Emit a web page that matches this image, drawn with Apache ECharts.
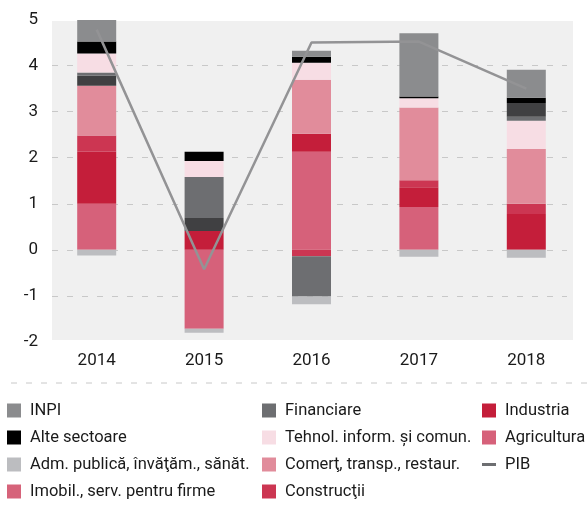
<!DOCTYPE html>
<html>
<head>
<meta charset="utf-8">
<script src="https://cdn.jsdelivr.net/npm/echarts@6/dist/echarts.min.js"></script>
<style>
  html, body { margin: 0; padding: 0; background: #fff; }
  #main { width: 588px; height: 511px; }
</style>
</head>
<body>
<div id="main"></div>
<script>
// ani si serii (contributii la PIB, p.p.)
var years = ['2014', '2015', '2016', '2017', '2018'];
var agricultura = [1.0, -1.71, 2.13, 0.93, 0];
var industria = [1.13, 0.41, 0.39, 0.43, 0.78];
var constructii = [0.35, 0, -0.14, 0.15, 0.22];
var comert = [1.08, 0, 1.17, 1.58, 1.19];
var imobil = [0.22, 0.28, 0, 0, 0.30];
var financiare = [0.07, 0.89, -0.87, 0, 0.09];
var tehnol = [0.41, 0.35, 0.37, 0.20, 0.61];
var alte = [0.26, 0.20, 0.13, 0.04, 0.11];
var inpi = [0.47, 0, 0.13, 1.37, 0.61];
var adm = [-0.12, -0.09, -0.17, -0.15, -0.17];
var pib = [4.78, -0.42, 4.5, 4.52, 3.5];
var yTicks = [-2, -1, 0, 1, 2, 3, 4, 5];

// in 2018 Tehnol. si Financiare stau sub Imobil.
var lowYears = ['2018'];
function onlyLow(arr, low) {
    return arr.map(function (v, i) {
        return (lowYears.indexOf(years[i]) >= 0) === low ? v : 0;
    });
}

var FONT = "Roboto, 'Liberation Sans', sans-serif";

var N_INPI = 'INPI';
var N_ALTE = 'Alte sectoare';
var N_ADM = 'Adm. publică, învăţăm., sănăt.';
var N_IMOB = 'Imobil., serv. pentru firme';
var N_FIN = 'Financiare';
var N_TEH = 'Tehnol. inform. și comun.';
var N_COM = 'Comerţ, transp., restaur.';
var N_CON = 'Construcţii';
var N_IND = 'Industria';
var N_AGR = 'Agricultura';
var N_PIB = 'PIB';

function bar(name, data, color) {
    return {
        name: name,
        type: 'bar',
        stack: 'total',
        barWidth: 39,
        data: data,
        itemStyle: { color: color }
    };
}

function sq(name, color) {
    var it = { name: name, icon: 'rect' };
    if (color) it.itemStyle = { color: color };
    return it;
}

var myChart = echarts.init(document.getElementById('main'));

var legendText = { fontFamily: FONT, fontSize: 16.5, lineHeight: 14, color: '#1a1a1a', padding: [0, 0, 0, 4] };
function legendCol(left, items) {
    return {
        orient: 'vertical',
        left: left,
        top: 402,
        height: 110,
        padding: 0,
        itemWidth: 14,
        itemHeight: 14,
        itemGap: 10,
        symbolKeepAspect: true,
        textStyle: legendText,
        selectedMode: false,
        data: items
    };
}

var option = {
    animation: false,
    backgroundColor: '#fff',
    graphic: [{
        type: 'rect',
        z: -10,
        silent: true,
        shape: { x: 52, y: 21, width: 521, height: 319 },
        style: { fill: '#f0f0f0' }
    }, {
        type: 'line',
        silent: true,
        shape: { x1: 11, y1: 383, x2: 588, y2: 383 },
        style: { stroke: '#c8c8c8', lineWidth: 1, lineDash: [6, 9] }
    }],
    grid: [
        { left: 43, right: 8, top: 19.5, bottom: 169 },
        // doar pentru liniile punctate
        { left: 52, right: 21, top: 65.6, bottom: 215.1 }
    ],
    legend: [
        legendCol(7, [sq(N_INPI), sq(N_ALTE), sq(N_ADM), sq(N_IMOB, '#d6637a')]),
        legendCol(262, [sq(N_FIN), sq(N_TEH), sq(N_COM), sq(N_CON)]),
        legendCol(482, [sq(N_IND), sq(N_AGR), {
            name: N_PIB,
            icon: 'path://M0,0L14,0L14,3L0,3Z',
            itemStyle: { color: '#6d6e71' }
        }])
    ],
    xAxis: [{
        type: 'category',
        gridIndex: 0,
        data: years,
        axisLine: { show: false },
        axisTick: { show: false },
        axisLabel: { fontFamily: FONT, fontSize: 17, color: '#1a1a1a', margin: 10 }
    }, {
        type: 'category',
        gridIndex: 1,
        data: years,
        show: false
    }],
    yAxis: [{
        type: 'value',
        gridIndex: 0,
        min: yTicks[0],
        max: yTicks[yTicks.length - 1],
        interval: 1,
        splitLine: { show: false },
        axisLine: { show: false },
        axisTick: { show: false },
        axisLabel: { fontFamily: FONT, fontSize: 17, color: '#1a1a1a', margin: 5 }
    }, {
        type: 'value',
        gridIndex: 1,
        min: -1,
        max: 4,
        interval: 1,
        axisLine: { show: false },
        axisTick: { show: false },
        axisLabel: { show: false },
        splitLine: { lineStyle: { color: '#c8c8c8', width: 1, type: [6, 9] } }
    }],
    series: [
        bar(N_AGR, agricultura, '#d6617a'),
        bar(N_IND, industria, '#c41e3a'),
        bar(N_CON, constructii, '#cc3652'),
        bar(N_COM, comert, '#e18c9b'),
        bar(N_TEH, onlyLow(tehnol, true), '#f7dde4'),
        bar(N_FIN, onlyLow(financiare, true), '#6d6e71'),
        bar(N_IMOB, imobil, '#404042'),
        bar(N_FIN, onlyLow(financiare, false), '#6d6e71'),
        bar(N_TEH, onlyLow(tehnol, false), '#f7dde4'),
        bar(N_ALTE, alte, '#000000'),
        bar(N_INPI, inpi, '#8b8c8e'),
        bar(N_ADM, adm, '#bcbdc0'),
        {
            name: N_PIB,
            type: 'line',
            data: pib,
            symbol: 'none',
            z: 5,
            lineStyle: { color: '#939395', width: 2.5 }
        }
    ]
};

myChart.setOption(option);
</script>
</body>
</html>
